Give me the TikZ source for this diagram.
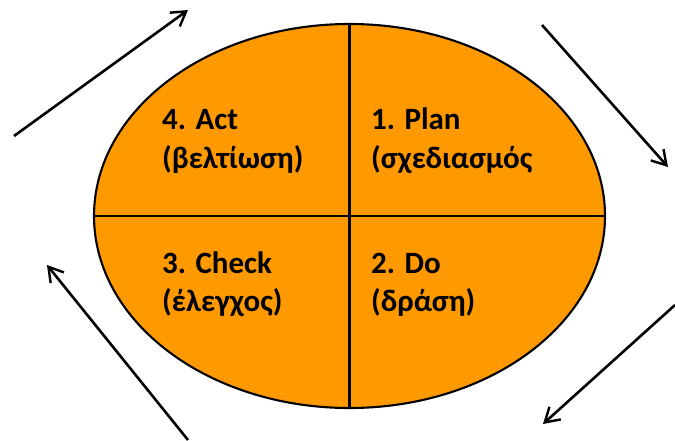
\documentclass[tikz,border=0pt]{standalone}
\usepackage{fontspec}
\setmainfont{Carlito}
\usetikzlibrary{arrows.meta,shapes.geometric}
\definecolor{pdcaorange}{HTML}{FF9900}
\tikzset{
  cyclearrow/.style={line width=2.6pt, -{Straight Barb[length=14pt,width=17pt,line width=2.4pt]}},
  quadtext/.style={anchor=base west, inner sep=0pt, font=\bfseries\fontsize{31}{36}\selectfont},
  divider/.style={line width=2.1pt}
}
\begin{document}
\begin{tikzpicture}[x=1pt,y=-1pt]
\useasboundingbox (0,0) rectangle (675,440);
% ellipse
\node[draw, line width=2.1pt, fill=pdcaorange, ellipse, inner sep=0pt,
      minimum width=511pt, minimum height=384pt] (cyc) at (349.5,216) {};
\draw[divider] (cyc.north) -- (cyc.south);
\draw[divider] (cyc.west) -- (cyc.east);
% texts
\node[quadtext] (acttitle) at (162,129) {4. Act};
\node[quadtext] (actgloss) at (162,168) {(βελτίωση)};
\node[quadtext] (plantitle) at (371,129) {1. Plan};
\node[quadtext] (plangloss) at (371,168) {(σχεδιασμός};
\node[quadtext] (checktitle) at (162,273) {3. Check};
\node[quadtext] (checkgloss) at (162,311) {(έλεγχος)};
\node[quadtext] (dotitle) at (371,273) {2. Do};
\node[quadtext] (dogloss) at (371,311) {(δράση)};
% arrows
\coordinate (a1s) at (14,136);
\coordinate (a1e) at (188,10);
\coordinate (a2s) at (542,25);
\coordinate (a2e) at (668,167);
\coordinate (a3s) at (675,305);
\coordinate (a3e) at (543,424);
\coordinate (a4s) at (188,440);
\coordinate (a4e) at (47,265);
\draw[cyclearrow] (a1s) -- (a1e);
\draw[cyclearrow] (a2s) -- (a2e);
\draw[cyclearrow] (a3s) -- (a3e);
\draw[cyclearrow] (a4s) -- (a4e);
\end{tikzpicture}
\end{document}
